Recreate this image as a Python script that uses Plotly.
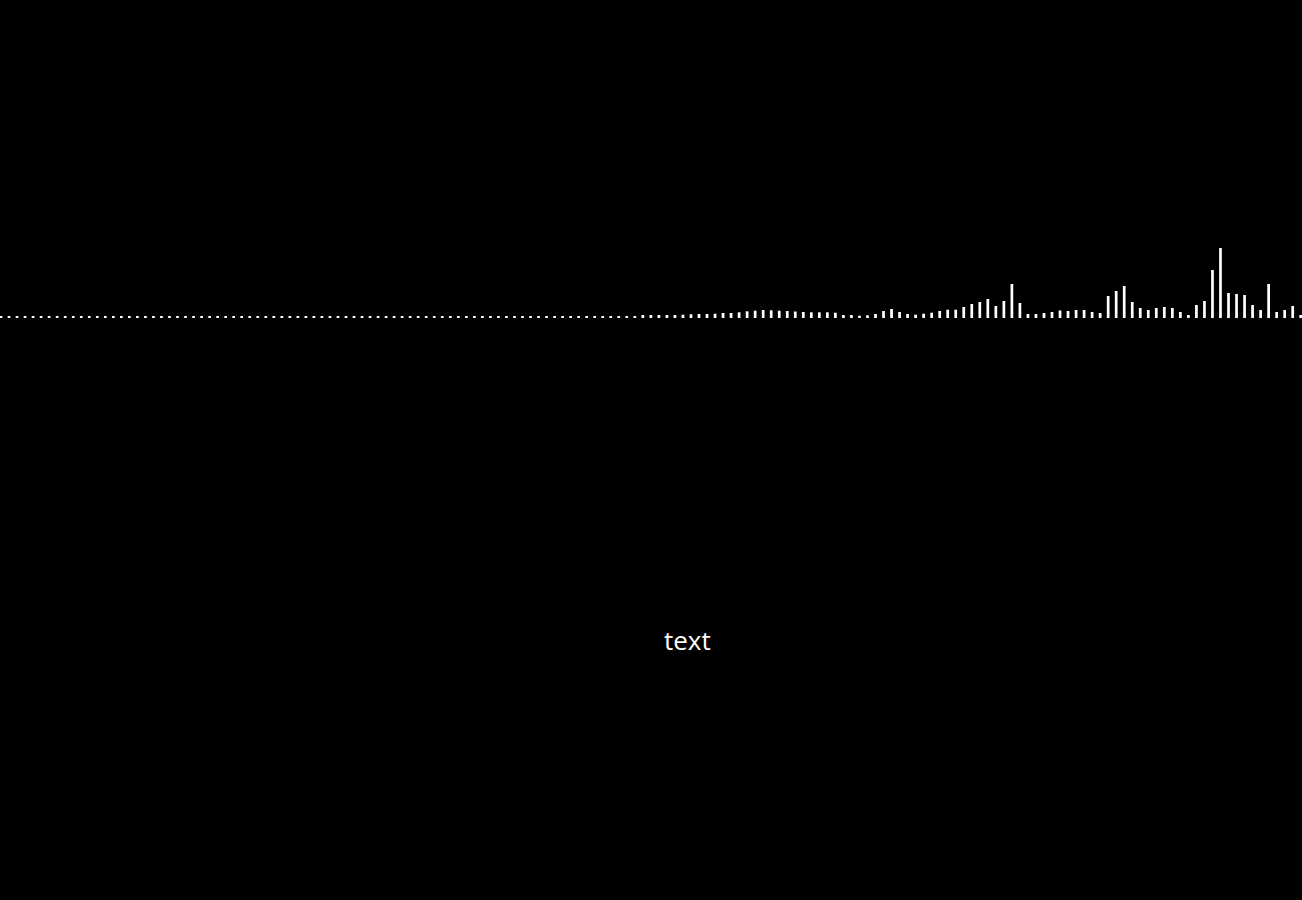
import plotly.graph_objects as go

# bar positions (index) and heights
positions = list(range(163))
values = [
    2, 2, 2, 2, 2, 2, 2, 2, 2, 2, 2, 2, 2, 2, 2, 2, 2, 2, 2, 2,
    2, 2, 2, 2, 2, 2, 2, 2, 2, 2, 2, 2, 2, 2, 2, 2, 2, 2, 2, 2,
    2, 2, 2, 2, 2, 2, 2, 2, 2, 2, 2, 2, 2, 2, 2, 2, 2, 2, 2, 2,
    2, 2, 2, 2, 2, 2, 2, 2, 2, 2, 2, 2, 2, 2, 2, 2, 2, 2, 2, 2,
    3, 3, 3, 3, 3, 3.3, 3.7, 4, 4, 4.3,
    5, 5, 5.7, 6.7, 7.3, 8, 7.7, 7.3, 7, 6.5,
    6, 5.7, 5.7, 5.7, 5.3, 3, 3, 2.3, 2.7, 4,
    7, 9, 6, 4, 3.3, 4.3, 5.3, 7, 8.3, 8.3,
    11, 14, 16, 19, 12, 17, 34, 15, 4, 4,
    5, 6, 7.5, 7, 8, 8, 6, 5, 22, 27,
    32, 16, 10, 8, 10, 11, 10, 6, 3, 13,
    17, 48, 70, 25, 24, 23, 13, 8, 34, 6,
    8, 12, 3,
]
label_text = "text"

fig = go.Figure(
    go.Bar(x=positions, y=values, marker=dict(color="#ffffff", line=dict(width=0)))
)
fig.update_layout(
    width=1302,
    height=900,
    margin=dict(l=0, r=0, t=0, b=0),
    paper_bgcolor="#000000",
    plot_bgcolor="#000000",
    bargap=0.66,
    showlegend=False,
    xaxis=dict(visible=False, range=[-0.125, 162.16]),
    yaxis=dict(visible=False, range=[-582, 318]),
    annotations=[
        dict(
            text=label_text,
            x=0.5277,
            y=1 - 640 / 900,
            xref="paper",
            yref="paper",
            showarrow=False,
            xanchor="center",
            yanchor="middle",
            font=dict(family="Open Sans", size=26, color="#ffffff"),
        )
    ],
)
fig.write_html("out.html", config={"displayModeBar": False})

with open("out.html", "r", encoding="utf-8") as f:
    html = f.read()
html = html.replace(
    "<body>",
    '<body style="margin:0;padding:0;background:#000000;overflow:hidden;">',
    1,
)
with open("out.html", "w", encoding="utf-8") as f:
    f.write(html)
